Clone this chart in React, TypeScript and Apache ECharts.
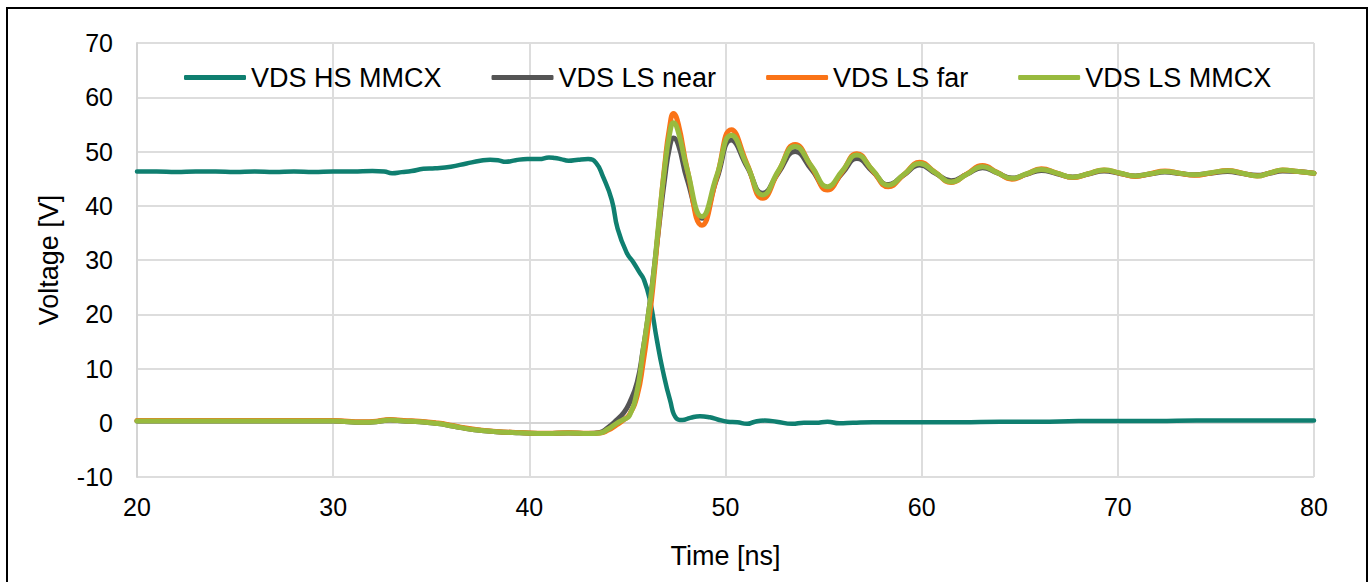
import React, { useEffect, useRef } from "react";
import * as echarts from "echarts";

const seriesNames = ["VDS HS MMCX", "VDS LS near", "VDS LS far", "VDS LS MMCX"];
const seriesColors = ["#0f7f70", "#555555", "#fa7317", "#98ba3e"];
const xTicks = [20, 30, 40, 50, 60, 70, 80];
const yTicks = [-10, 0, 10, 20, 30, 40, 50, 60, 70];

const hsTime = [
  20, 21, 22, 23, 24, 25, 26, 27, 28, 29, 30, 31, 32,
  32.6, 33, 33.5, 34, 34.6, 35.2, 36, 36.8, 37.5, 38, 38.4, 38.8, 39.3, 39.9, 40.5, 41, 41.3, 41.6, 42, 42.5, 43,
  43.4, 43.75, 44.2, 44.5, 44.97, 45.3, 45.6, 45.85, 46.15, 46.5,
  46.8, 47.17, 47.5, 47.8, 48.2, 48.7, 49.2, 49.6, 50.1, 50.6,
  51.1, 51.5, 52, 52.6, 53.4, 54, 54.6, 55.2, 55.8, 56.5,
  57.5, 58.5, 60, 62, 64, 66, 68, 70, 72, 74,
  76, 78, 80,
];
const hsValues = [
  46.3, 46.3, 46.2, 46.3, 46.3, 46.2, 46.3, 46.2, 46.3, 46.2, 46.3, 46.3, 46.4,
  46.3, 46.0, 46.2, 46.4, 46.8, 46.9, 47.2, 47.8, 48.3, 48.5, 48.4, 48.1, 48.4, 48.6, 48.6, 48.9, 48.8, 48.6, 48.3, 48.5, 48.6,
  47.9, 45.4, 41.1, 35.8, 31.3, 29.6, 27.8, 26.3, 22.6, 15.3,
  9.7, 4.2, 0.8, 0.5, 0.9, 1.2, 1.0, 0.6, 0.2, 0.1,
  -0.2, 0.2, 0.4, 0.2, -0.2, 0.0, 0.0, 0.2, -0.1, 0.0,
  0.1, 0.1, 0.1, 0.1, 0.2, 0.2, 0.3, 0.3, 0.3, 0.4,
  0.4, 0.4, 0.4,
];

const lsTime = [
  20, 22, 24, 26, 28, 30,
  31.5, 32.2, 32.9, 33.6, 34.4, 35.2, 35.8, 36.5, 37.2, 38.3, 39.5, 40.9, 42, 43,
  43.6, 44.0, 44.45, 44.8, 45.1, 45.5, 45.8, 46.05, 46.3, 46.6, 46.9, 47.15, 47.35, 47.6, 48.05,
  48.8, 49.55, 50.3, 51.1, 51.9, 52.7, 53.55, 54.4, 55.2, 55.95,
  56.7, 57.5, 58.3, 59.1, 59.9, 60.7, 61.5, 62.3, 63.1, 63.85,
  64.6, 65.35, 66.1, 66.9, 67.7, 68.5, 69.3, 70.1, 70.9, 71.65,
  72.4, 73.15, 73.9, 74.75, 75.6, 76.35, 77.1, 77.75, 78.4, 79.2,
  80,
];
const lsNear = [
  0.3, 0.3, 0.3, 0.3, 0.3, 0.3,
  0.1, 0.2, 0.5, 0.3, 0.2, -0.1, -0.4, -0.9, -1.3, -1.65, -1.85, -2.0, -1.9, -2.0,
  -1.8, -0.9, 0.5, 1.8, 3.6, 7.5, 13.5, 19.5, 26.5, 36, 45, 50.8, 52.5, 51.2, 44.8,
  37.7, 44.9, 52.1, 47.2, 42.3, 46.1, 50.0, 46.6, 43.3, 46.0,
  48.7, 46.3, 43.9, 45.7, 47.5, 46.0, 44.6, 45.8, 47.0, 46.05,
  45.1, 45.8, 46.5, 45.9, 45.3, 45.85, 46.4, 45.95, 45.5, 45.85,
  46.2, 45.95, 45.7, 46.0, 46.3, 45.95, 45.6, 46.0, 46.4, 46.3,
  46.0,
];
const lsFar = [
  0.4, 0.4, 0.4, 0.4, 0.4, 0.4,
  0.2, 0.3, 0.6, 0.4, 0.3, 0.0, -0.3, -0.8, -1.2, -1.6, -1.8, -1.95, -1.85, -1.95,
  -1.9, -1.4, -0.4, 0.5, 1.5, 5.0, 11.0, 17.5, 25, 36.5, 47.5, 54.5, 57.0, 55.0, 46.7,
  36.4, 45.2, 54.0, 47.7, 41.4, 46.3, 51.3, 47.1, 42.9, 46.25,
  49.6, 46.5, 43.5, 45.75, 48.0, 46.15, 44.3, 45.85, 47.4, 46.15,
  44.9, 45.85, 46.8, 46.0, 45.2, 45.9, 46.6, 46.0, 45.4, 45.9,
  46.4, 46.0, 45.6, 46.05, 46.5, 46.0, 45.5, 46.05, 46.6, 46.3,
  46.0,
];
const lsMmcx = [
  0.3, 0.3, 0.3, 0.3, 0.3, 0.3,
  0.1, 0.2, 0.5, 0.3, 0.2, -0.1, -0.4, -0.9, -1.3, -1.65, -1.85, -2.0, -1.9, -2.0,
  -1.9, -1.2, -0.1, 0.6, 1.3, 6.0, 13.4, 19.6, 26.3, 37, 47, 53.2, 55.3, 53.5, 46.6,
  38.0, 45.5, 53.0, 47.5, 42.0, 46.45, 50.9, 47.2, 43.5, 46.4,
  49.35, 46.6, 43.8, 45.8, 47.8, 46.1, 44.4, 45.8, 47.2, 46.1,
  45.05, 45.9, 46.7, 46.0, 45.25, 45.9, 46.6, 46.05, 45.5, 45.9,
  46.3, 46.0, 45.7, 46.1, 46.45, 46.0, 45.5, 46.05, 46.6, 46.3,
  46.0,
];

const zip = (xs: number[], ys: number[]) => xs.map((x, i) => [x, ys[i]]);

export default function App() {
  const ref = useRef<HTMLDivElement>(null);
  useEffect(() => {
    if (!ref.current) return;
    const chart = echarts.init(ref.current, undefined, { renderer: "svg" });
    const font = "Liberation Sans, Arial, sans-serif";
    const dataSets = [
      zip(hsTime, hsValues),
      zip(lsTime, lsNear),
      zip(lsTime, lsFar),
      zip(lsTime, lsMmcx),
    ];
    const widths = [4.5, 5, 5, 5];
    chart.setOption({
      animation: false,
      backgroundColor: "transparent",
      textStyle: { fontFamily: font },
      grid: { left: 137, right: 57, top: 43, bottom: 105, containLabel: false },
      legend: {
        left: 179,
        top: 59,
        itemWidth: 62,
        itemHeight: 5,
        itemGap: 50,
        icon: "roundRect",
        textStyle: { fontSize: 27, color: "#000", fontFamily: font },
        data: seriesNames,
      },
      xAxis: {
        type: "value",
        min: xTicks[0],
        max: xTicks[xTicks.length - 1],
        interval: 10,
        name: "Time [ns]",
        nameLocation: "middle",
        nameGap: 65,
        nameTextStyle: { fontSize: 27, color: "#000", fontFamily: font },
        axisLine: { show: true, lineStyle: { color: "#d4d4d4", width: 2 } },
        axisTick: { show: false },
        axisLabel: { fontSize: 25, color: "#000", margin: 17, fontFamily: font },
        splitLine: { show: true, lineStyle: { color: "#dddddd", width: 2 } },
      },
      yAxis: {
        type: "value",
        min: yTicks[0],
        max: yTicks[yTicks.length - 1],
        interval: 10,
        name: "Voltage [V]",
        nameLocation: "middle",
        nameGap: 75,
        nameTextStyle: { fontSize: 27, color: "#000", fontFamily: font },
        axisLine: { show: true, lineStyle: { color: "#d4d4d4", width: 2 } },
        axisTick: { show: false },
        axisLabel: { fontSize: 25, color: "#000", margin: 24, fontFamily: font },
        splitLine: { show: true, lineStyle: { color: "#dddddd", width: 2 } },
      },
      series: seriesNames.map((name, i) => ({
        name,
        type: "line",
        data: dataSets[i],
        showSymbol: false,
        symbol: "none",
        smooth: 0.5,
        color: seriesColors[i],
        lineStyle: { color: seriesColors[i], width: widths[i], cap: "round", join: "round" },
      })),
    });
    return () => chart.dispose();
  }, []);
  return (
    <div
      style={{
        position: "fixed",
        left: 0,
        top: 0,
        width: 1371,
        height: 582,
        overflow: "hidden",
        background: "#fff",
      }}
    >
      <div
        style={{
          position: "absolute",
          left: 6,
          top: 7,
          width: 1362,
          height: 700,
          border: "2px solid #000",
          boxSizing: "border-box",
        }}
      />
      <div ref={ref} style={{ position: "absolute", left: 0, top: 0, width: 1371, height: 582 }} />
    </div>
  );
}
